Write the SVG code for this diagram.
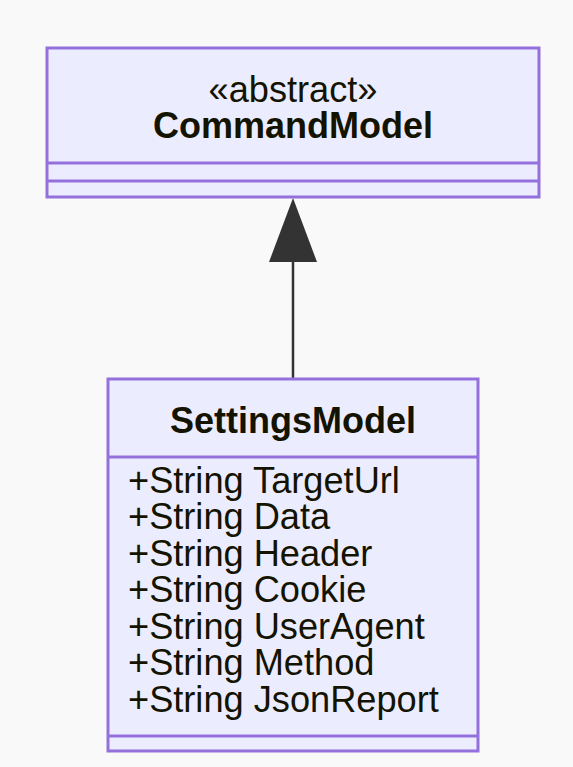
<svg xmlns="http://www.w3.org/2000/svg" width="573" height="767" viewBox="0 0 573 767">
  <style>
    .box { fill: #ECECFF; stroke: #9370DB; stroke-width: 3; }
    .div { stroke: #9370DB; stroke-width: 3; fill: none; }
    .txt { font-family: "Liberation Sans", Arial, sans-serif; font-size: 36.2px; fill: #131300; }
    .title { font-weight: bold; font-size: 36px; text-anchor: middle; }
    .edge { stroke: #333333; stroke-width: 2.5; fill: none; }
    .head { fill: #333333; }
  </style>
  <rect width="573" height="767" fill="#f9f9f9"/>

  <!-- inheritance: SettingsModel extends CommandModel -->
  <g id="connectors">
    <line class="edge" x1="293" y1="378" x2="293" y2="262"/>
    <polygon class="head" points="293,198 317,262 269,262"/>
  </g>

  <g id="CommandModel">
    <rect class="box" x="47" y="48" width="492" height="149"/>
    <line class="div" x1="47" y1="163" x2="539" y2="163"/>
    <line class="div" x1="47" y1="181" x2="539" y2="181"/>
    <text class="txt" x="293" y="102" text-anchor="middle">«abstract»</text>
    <text class="txt title" x="293" y="138">CommandModel</text>
  </g>

  <g id="SettingsModel">
    <rect class="box" x="108" y="379" width="370" height="372"/>
    <line class="div" x1="108" y1="457" x2="478" y2="457"/>
    <line class="div" x1="108" y1="736" x2="478" y2="736"/>
    <text class="txt title" x="293" y="433">SettingsModel</text>
    <text class="txt" x="128" y="493">+String TargetUrl</text>
    <text class="txt" x="128" y="529">+String Data</text>
    <text class="txt" x="128" y="566">+String Header</text>
    <text class="txt" x="128" y="602">+String Cookie</text>
    <text class="txt" x="128" y="639">+String UserAgent</text>
    <text class="txt" x="128" y="675">+String Method</text>
    <text class="txt" x="128" y="712">+String JsonReport</text>
  </g>
</svg>
